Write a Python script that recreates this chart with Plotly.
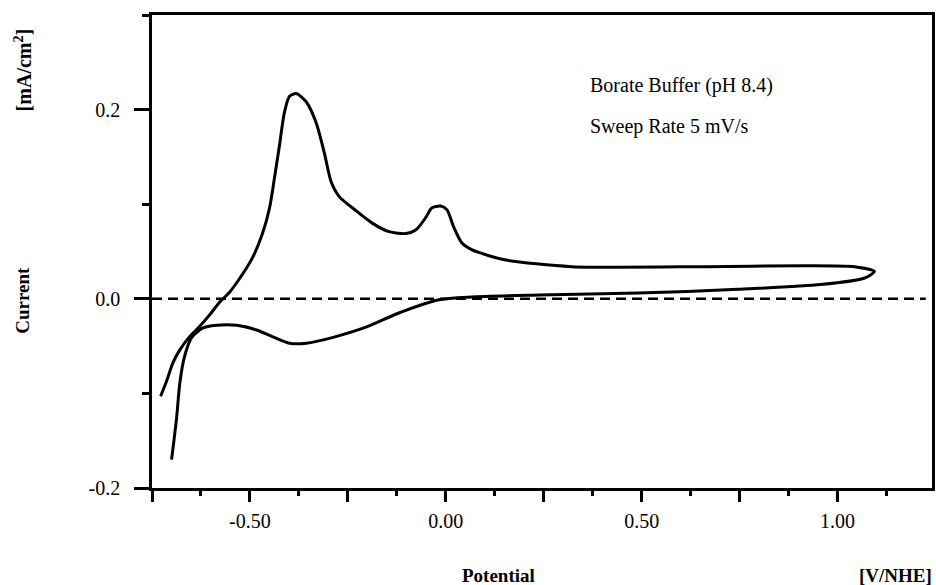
import plotly.graph_objects as go

# Anodic (forward) sweep: potential [V/NHE], current [mA/cm^2]
potential_fwd = [-0.728, -0.712, -0.697, -0.679, -0.654, -0.628, -0.603, -0.578, -0.552, -0.532,
                 -0.494, -0.468, -0.450, -0.438, -0.425, -0.412, -0.399, -0.382, -0.356, -0.331,
                 -0.310, -0.293, -0.272, -0.229, -0.188, -0.145, -0.102, -0.076, -0.051, -0.036,
                 -0.013, 0.003, 0.020, 0.041, 0.066, 0.084, 0.153, 0.321, 0.662, 0.916, 1.043, 1.094]
current_fwd = [-0.103, -0.086, -0.068, -0.054, -0.040, -0.029, -0.017, -0.004, 0.007, 0.018,
               0.043, 0.069, 0.096, 0.126, 0.161, 0.197, 0.214, 0.217, 0.208, 0.186,
               0.154, 0.124, 0.108, 0.093, 0.080, 0.071, 0.069, 0.073, 0.086, 0.096,
               0.098, 0.094, 0.076, 0.059, 0.052, 0.049, 0.041, 0.034, 0.034, 0.035, 0.034, 0.029]

# Cathodic (reverse) sweep
potential_rev = [1.069, 0.957, 0.746, 0.491, 0.237, 0.066, -0.018, -0.120, -0.204, -0.290,
                 -0.356, -0.399, -0.443, -0.483, -0.534, -0.585, -0.621, -0.649, -0.667, -0.679,
                 -0.687, -0.700]
current_rev = [0.022, 0.015, 0.010, 0.006, 0.004, 0.002, -0.001, -0.015, -0.030, -0.041,
               -0.047, -0.047, -0.040, -0.033, -0.028, -0.028, -0.031, -0.041, -0.061, -0.089,
               -0.125, -0.170]

x_major_ticks = [-0.75, -0.50, -0.25, 0.00, 0.25, 0.50, 0.75, 1.00]
x_tick_labels = ["", "-0.50", "", "0.00", "", "0.50", "", "1.00"]
y_major_ticks = [-0.2, 0.0, 0.2]
y_tick_labels = ["-0.2", "0.0", "0.2"]

SERIF = "Liberation Serif, Times New Roman, serif"

fig = go.Figure()
fig.add_trace(go.Scatter(
    x=potential_fwd + potential_rev,
    y=current_fwd + current_rev,
    mode="lines",
    line=dict(color="black", width=3, shape="spline", smoothing=0.7),
    showlegend=False,
    hoverinfo="skip",
))

# dashed zero line
fig.add_shape(type="line", xref="paper", yref="y", x0=0, x1=0.992, y0=0, y1=0,
              line=dict(color="black", width=2.5, dash="10px,6px"))

fig.update_layout(
    width=936, height=585,
    margin=dict(l=152, r=1, t=15, b=97),
    paper_bgcolor="white", plot_bgcolor="white",
    font=dict(family=SERIF, color="black", size=20),
    xaxis=dict(
        range=[-0.75, 1.241], showgrid=False, zeroline=False,
        showline=True, linecolor="black", linewidth=2.5, mirror=True,
        tickmode="array", tickvals=x_major_ticks, ticktext=x_tick_labels,
        ticks="outside", ticklen=11, tickwidth=2.5, tickcolor="black",
        tickfont=dict(family=SERIF, size=20), ticklabelstandoff=2,
        minor=dict(dtick=0.125, tick0=0, ticks="outside", ticklen=5, tickwidth=2.5, tickcolor="black"),
    ),
    yaxis=dict(
        range=[-0.2, 0.3], showgrid=False, zeroline=False,
        showline=True, linecolor="black", linewidth=2.5, mirror=True,
        tickmode="array", tickvals=y_major_ticks, ticktext=y_tick_labels,
        ticks="outside", ticklen=15, tickwidth=2.5, tickcolor="black",
        tickfont=dict(family=SERIF, size=20), ticklabelstandoff=10,
        minor=dict(dtick=0.1, tick0=0, ticks="outside", ticklen=7, tickwidth=2.5, tickcolor="black"),
    ),
)

annots = [
    dict(text="Borate Buffer (pH 8.4)", x=0.559, y=0.850, xanchor="left", yanchor="middle",
         font=dict(family=SERIF, size=20)),
    dict(text="Sweep Rate 5 mV/s", x=0.559, y=0.765, xanchor="left", yanchor="middle",
         font=dict(family=SERIF, size=20)),
    dict(text="<b>Potential</b>", x=0.444, y=-0.186, xanchor="center", yanchor="middle",
         font=dict(family=SERIF, size=19)),
    dict(text="<b>[V/NHE]</b>", x=0.953, y=-0.186, xanchor="center", yanchor="middle",
         font=dict(family=SERIF, size=19)),
    dict(text="<b>Current</b>", x=-0.166, y=0.397, xanchor="center", yanchor="middle",
         textangle=-90, font=dict(family=SERIF, size=19)),
    dict(text="<b>[mA/cm<sup>2</sup>]</b>", x=-0.166, y=0.884, xanchor="center", yanchor="middle",
         textangle=-90, font=dict(family=SERIF, size=20)),
]
for a in annots:
    fig.add_annotation(xref="paper", yref="paper", showarrow=False, **a)

fig.write_html("out.html", config={"displayModeBar": False},
               post_script="document.body.style.margin='0';")
